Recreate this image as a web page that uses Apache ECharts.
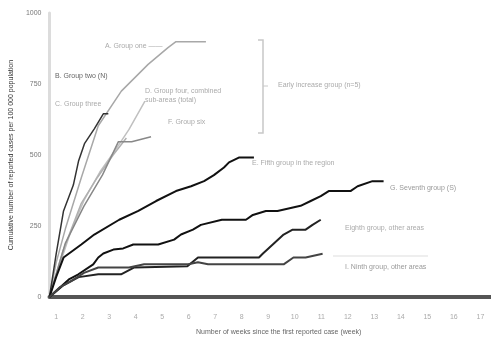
<!DOCTYPE html>
<html><head><meta charset="utf-8">
<script src="https://cdn.jsdelivr.net/npm/echarts@6/dist/echarts.min.js"></script>
<style>html,body{margin:0;padding:0;background:#fff}#c{width:491px;height:341px}</style>
</head><body><div id="c"></div>
<script>
// ---- data (x in weeks, y cumulative count) ----
const xTickLabels = ['1','2','3','4','5','6','7','8','9','10','11','12','13','14','15','16','17'];
const yTicks = [0, 250, 500, 750, 1000];
const seriesNames = ['A','B','C','D','F','E','G','H','I'];
const lineA_grey = [[0,0],[0.25,120],[0.6,240],[1.2,420],[1.84,603],[2.71,725],[3.72,819],[4.47,878],[4.77,899],[5.9,899]];
const lineB_dark = [[0,0],[0.25,150],[0.53,303],[0.9,394],[1.1,480],[1.32,540],[1.69,592],[2.03,645],[2.22,645]];
const lineC_grey = [[0,0],[0.3,90],[0.8,230],[1.3,340],[1.9,440],[2.5,520],[3.0,590],[3.6,690]];
const lineD_grey = [[0,0],[0.5,160],[1.2,330],[1.8,420],[2.4,500],[2.9,560]];
const lineF_mix  = [[0,0],[0.6,190],[1.3,320],[2.0,430],[2.6,547],[3.1,547],[3.83,564]];
const lineE = [[0,0],[0.25,70],[0.53,139],[1.2,185],[1.69,220],[2.63,272],[3.35,303],[4.02,338],[4.77,373],[5.34,390],[5.83,408],[6.2,429],[6.58,456],[6.77,474],[7.14,491],[7.71,491]];
const lineG = [[0,0],[0.75,63],[1.09,80],[1.65,115],[1.84,139],[2.03,153],[2.41,167],[2.78,171],[3.16,185],[4.1,185],[4.7,202],[4.96,220],[5.41,237],[5.71,254],[6.5,272],[7.41,272],[7.67,289],[8.16,303],[8.6,303],[9.47,321],[9.85,338],[10.23,355],[10.53,373],[11.35,373],[11.62,390],[12.18,408],[12.6,408]];
const lineH = [[0,0],[0.5,40],[1.1,70],[1.84,80],[2.7,80],[3.2,104],[5.2,108],[5.6,139],[7.9,139],[8.05,153],[8.42,185],[8.83,220],[9.17,237],[9.66,237],[9.92,254],[10.23,272]];
const lineI = [[0,0],[0.4,35],[0.8,55],[1.3,85],[1.84,104],[3.0,104],[3.57,115],[5.23,115],[5.6,122],[5.98,115],[8.83,115],[9.2,139],[9.66,139],[10.3,152]];
const labelTexts = {
  A: 'A. Group one ——',
  B: 'B. Group two (N)',
  C: 'C. Group three',
  D1: 'D. Group four, combined',
  D2: 'sub-areas (total)',
  F: 'F. Group six',
  bracket: 'Early increase group (n=5)',
  E: 'E. Fifth group in the region',
  G: 'G. Seventh group (S)',
  H: 'Eighth group, other areas',
  I: 'I. Ninth group, other areas'
};

const chart = echarts.init(document.getElementById('c'), null, {renderer:'canvas'});
const FONT = 'Liberation Sans';
function ln(name, data, color, width, z){
  return {name, type:'line', data, symbol:'none', smooth:false, z: z||2,
    lineStyle:{color, width}, emphasis:{disabled:true}};
}
const series = [
  ln('A', lineA_grey, '#a8a8a8', 1.5),
  ln('C', lineC_grey, '#c0c0c0', 1.5),
  ln('D', lineD_grey, '#b0b0b0', 1.5),
  ln('F', lineF_mix, '#888', 1.5),
  ln('B', lineB_dark, '#333', 1.5, 3),
  ln('E', lineE, '#111', 2, 4),
  ln('G', lineG, '#111', 2, 4),
  ln('H', lineH, '#222', 2, 4),
  ln('I', lineI, '#444', 2, 4)
];
const txt = (x,y,t,c)=>({type:'text', x, y, style:{text:t, fill:c||'#999', font:'7px '+FONT}});
chart.setOption({
  animation:false,
  backgroundColor:'#fff',
  grid:{left:48, right:0, top:13, bottom:41, containLabel:false},
  xAxis:{type:'value', min:0, max:16.65, interval:0.25,
    name:'Number of weeks since the first reported case (week)', nameLocation:'middle', nameGap:32,
    nameTextStyle:{fontFamily:FONT, fontSize:7, color:'#666', padding:[0,0,0,17]},
    axisLine:{show:true, onZero:false, lineStyle:{color:'#555', width:4}},
    axisTick:{show:false}, splitLine:{show:false},
    axisLabel:{fontFamily:FONT, fontSize:7, color:'#aaa', margin:17, showMaxLabel:false, showMinLabel:true,
      formatter:function(v){const k=v-0.25; const r=Math.round(k); if(Math.abs(k-r)<1e-6 && r>=0 && r<xTickLabels.length) return xTickLabels[r]; return '';}}
  },
  yAxis:{type:'value', min:0, max:1000, interval:250,
    name:'Cumulative number of reported cases per 100 000 population', nameLocation:'middle', nameGap:33, nameRotate:90,
    nameTextStyle:{fontFamily:FONT, fontSize:7, color:'#333'},
    axisLine:{show:true, lineStyle:{color:'#dcdcdc', width:3}}, axisTick:{show:false}, splitLine:{show:false},
    axisLabel:{fontFamily:FONT, fontSize:7, color:'#777', margin:8, formatter:v=>yTicks.includes(v)?String(v):''}
  },
  series,
  graphic:[
    txt(105,43,labelTexts.A,'#aaa'),
    txt(55,73,labelTexts.B,'#666'),
    txt(55,101,labelTexts.C,'#aaa'),
    txt(145,88,labelTexts.D1,'#aaa'),
    txt(145,97,labelTexts.D2,'#aaa'),
    txt(168,119,labelTexts.F,'#aaa'),
    {type:'polyline', shape:{points:[[258,40],[263,40],[263,133],[258,133]]}, style:{stroke:'#c8c8c8', lineWidth:1.5, fill:null}},
    {type:'line', shape:{x1:263,y1:86,x2:268,y2:86}, style:{stroke:'#c8c8c8', lineWidth:1}},
    txt(278,82,labelTexts.bracket,'#aaa'),
    txt(252,160,labelTexts.E,'#aaa'),
    txt(390,185,labelTexts.G,'#999'),
    txt(345,225,labelTexts.H,'#aaa'),
    {type:'line', shape:{x1:333,y1:256,x2:428,y2:256}, style:{stroke:'#eee', lineWidth:2}},
    txt(345,264,labelTexts.I,'#999')
  ]
});
</script></body></html>
